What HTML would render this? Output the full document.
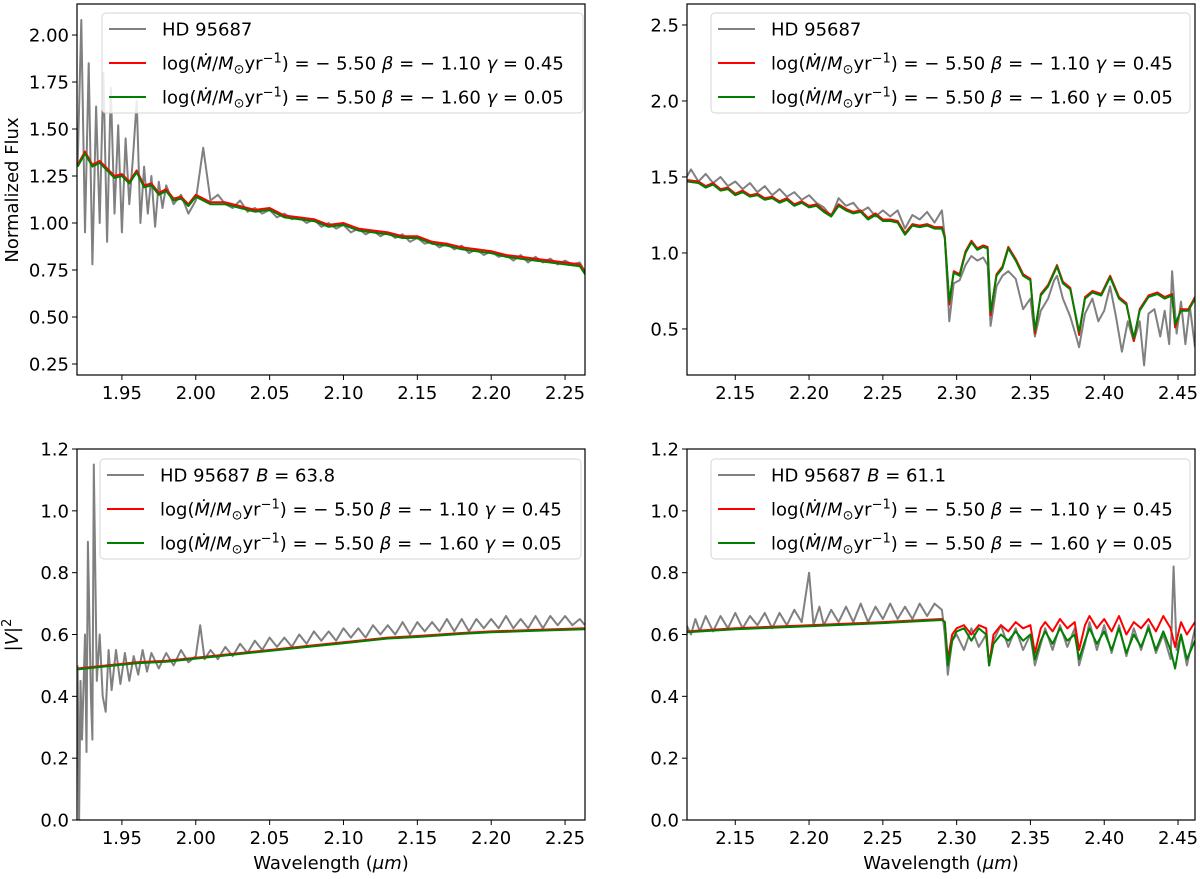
<!DOCTYPE html>
<html><head><meta charset="utf-8"><style>
body{margin:0;background:#fff}
svg text{font-family:"DejaVu Sans","Liberation Sans",sans-serif;fill:#000}
</style></head><body>
<svg id="fig" width="1200" height="874" viewBox="0 0 1200 874" xmlns="http://www.w3.org/2000/svg">
<text transform="translate(18,190) rotate(-90)" text-anchor="middle" font-size="18">Normalized Flux</text>
<text transform="translate(18,635) rotate(-90)" text-anchor="middle" font-size="18">|<tspan font-style="italic">V</tspan>|<tspan font-size="13" dy="-7">2</tspan></text>
</svg>
<script>
// ---------- Panel A: top-left normalized flux ----------
const aGrayWl=[1.920,1.9225,1.925,1.9275,1.930,1.9325,1.935,1.9375,1.940,1.9425,1.945,1.9475,1.950,1.9525,1.955,1.9575,1.960,1.9625,1.965,1.9675,1.970,1.9725,1.975,1.9775,1.980,1.985,1.99,1.995,2.00,2.005,2.01,2.015,2.02,2.025,2.03,2.035,2.04,2.045,2.05,2.055,2.06,2.065,2.07,2.075,2.08,2.085,2.09,2.095,2.10,2.105,2.11,2.115,2.12,2.125,2.13,2.135,2.14,2.145,2.15,2.155,2.16,2.165,2.17,2.175,2.18,2.185,2.19,2.195,2.20,2.205,2.21,2.215,2.22,2.225,2.23,2.235,2.24,2.245,2.25,2.255,2.26,2.265];
const aGrayFlux=[1.30,2.08,0.95,1.85,0.78,1.62,1.00,1.80,0.90,1.72,1.05,1.52,0.95,1.45,1.10,1.35,1.65,1.00,1.30,1.05,1.25,0.98,1.22,1.08,1.20,1.10,1.15,1.05,1.12,1.40,1.12,1.15,1.10,1.08,1.12,1.06,1.08,1.05,1.07,1.03,1.05,1.02,1.03,1.00,1.02,0.98,1.00,0.97,0.99,0.95,0.97,0.94,0.96,0.93,0.95,0.92,0.94,0.90,0.92,0.89,0.90,0.87,0.89,0.86,0.88,0.84,0.86,0.83,0.85,0.82,0.83,0.80,0.83,0.79,0.82,0.79,0.81,0.78,0.80,0.78,0.79,0.72];
const aModelWl=[1.92,1.925,1.93,1.935,1.94,1.945,1.95,1.955,1.96,1.965,1.97,1.975,1.98,1.985,1.99,1.995,2.00,2.01,2.02,2.03,2.04,2.05,2.06,2.07,2.08,2.09,2.10,2.11,2.12,2.13,2.14,2.15,2.16,2.17,2.18,2.19,2.20,2.21,2.22,2.23,2.24,2.25,2.26,2.265];
const aRedFlux=[1.31,1.38,1.31,1.33,1.29,1.25,1.26,1.22,1.28,1.20,1.21,1.16,1.18,1.13,1.14,1.10,1.15,1.11,1.11,1.09,1.07,1.08,1.04,1.03,1.02,0.99,1.00,0.97,0.96,0.95,0.93,0.93,0.90,0.89,0.87,0.86,0.85,0.83,0.82,0.81,0.80,0.79,0.78,0.72];
const aGreenFlux=[1.30,1.37,1.30,1.32,1.28,1.24,1.25,1.21,1.27,1.19,1.20,1.15,1.17,1.12,1.13,1.09,1.14,1.10,1.10,1.08,1.06,1.07,1.03,1.02,1.01,0.98,0.99,0.96,0.95,0.94,0.92,0.92,0.89,0.88,0.86,0.85,0.84,0.82,0.81,0.80,0.79,0.78,0.77,0.71];
const aYTicks=[0.25,0.50,0.75,1.00,1.25,1.50,1.75,2.00];
// ---------- Panel B: top-right normalized flux ----------
const bGrayWl=[2.117,2.12,2.125,2.13,2.135,2.14,2.145,2.15,2.155,2.16,2.165,2.17,2.175,2.18,2.185,2.19,2.195,2.20,2.205,2.21,2.215,2.22,2.225,2.23,2.235,2.24,2.245,2.25,2.255,2.26,2.265,2.27,2.275,2.28,2.285,2.29,2.292,2.295,2.298,2.302,2.306,2.31,2.314,2.318,2.321,2.323,2.327,2.331,2.335,2.34,2.345,2.35,2.353,2.357,2.362,2.366,2.368,2.372,2.377,2.381,2.383,2.387,2.392,2.396,2.40,2.404,2.408,2.412,2.416,2.42,2.424,2.427,2.43,2.434,2.438,2.441,2.444,2.446,2.449,2.452,2.455,2.458,2.4615];
const bGrayFlux=[1.50,1.55,1.47,1.52,1.46,1.50,1.44,1.47,1.42,1.46,1.40,1.44,1.38,1.42,1.37,1.40,1.35,1.38,1.33,1.30,1.24,1.36,1.31,1.33,1.27,1.30,1.24,1.28,1.24,1.28,1.16,1.25,1.22,1.27,1.20,1.28,1.10,0.55,0.80,0.82,0.92,0.98,0.95,0.97,0.92,0.52,0.78,0.85,0.88,0.83,0.63,0.70,0.45,0.62,0.70,0.82,0.85,0.70,0.58,0.45,0.38,0.60,0.70,0.55,0.62,0.78,0.58,0.35,0.55,0.42,0.55,0.26,0.60,0.63,0.45,0.62,0.40,0.88,0.47,0.68,0.40,0.65,0.38];
const bModelWl=[2.117,2.125,2.13,2.135,2.14,2.145,2.15,2.155,2.16,2.165,2.17,2.175,2.18,2.185,2.19,2.195,2.20,2.205,2.21,2.215,2.22,2.225,2.23,2.235,2.24,2.245,2.25,2.255,2.26,2.265,2.27,2.275,2.28,2.285,2.29,2.292,2.295,2.298,2.302,2.306,2.31,2.314,2.318,2.321,2.323,2.327,2.331,2.335,2.34,2.345,2.35,2.353,2.357,2.362,2.368,2.372,2.377,2.383,2.387,2.392,2.398,2.404,2.41,2.415,2.42,2.424,2.43,2.436,2.441,2.446,2.448,2.452,2.457,2.4615];
const bRedFlux=[1.48,1.47,1.44,1.46,1.42,1.43,1.39,1.41,1.38,1.39,1.36,1.37,1.34,1.36,1.32,1.34,1.31,1.32,1.28,1.25,1.32,1.29,1.27,1.28,1.23,1.26,1.22,1.22,1.21,1.13,1.19,1.18,1.19,1.17,1.17,1.11,0.66,0.88,0.86,1.01,1.08,1.03,1.05,1.04,0.59,0.86,0.91,1.04,0.96,0.86,0.83,0.47,0.73,0.79,0.92,0.81,0.77,0.46,0.71,0.75,0.73,0.85,0.71,0.67,0.42,0.63,0.72,0.74,0.71,0.73,0.51,0.63,0.63,0.71];
const bGreenFlux=[1.47,1.46,1.43,1.45,1.41,1.42,1.38,1.40,1.37,1.38,1.35,1.36,1.33,1.35,1.31,1.33,1.30,1.31,1.27,1.24,1.31,1.28,1.26,1.27,1.22,1.25,1.21,1.21,1.20,1.12,1.18,1.17,1.18,1.16,1.16,1.10,0.68,0.87,0.85,1.00,1.07,1.02,1.04,1.03,0.61,0.85,0.90,1.03,0.95,0.85,0.82,0.49,0.72,0.78,0.91,0.80,0.76,0.48,0.70,0.74,0.72,0.84,0.70,0.66,0.44,0.62,0.71,0.73,0.70,0.72,0.53,0.62,0.62,0.70];
const bYTicks=[0.5,1.0,1.5,2.0,2.5];
// ---------- Panel C: bottom-left |V|^2 ----------
const cGrayWl=[1.92,1.921,1.922,1.923,1.925,1.926,1.927,1.929,1.93,1.931,1.933,1.935,1.937,1.939,1.941,1.943,1.946,1.949,1.952,1.955,1.958,1.961,1.964,1.967,1.97,1.975,1.98,1.985,1.99,1.995,2.00,2.003,2.006,2.01,2.015,2.02,2.025,2.03,2.035,2.04,2.045,2.05,2.055,2.06,2.065,2.07,2.075,2.08,2.085,2.09,2.095,2.10,2.105,2.11,2.115,2.12,2.125,2.13,2.135,2.14,2.145,2.15,2.155,2.16,2.165,2.17,2.175,2.18,2.185,2.19,2.195,2.20,2.205,2.21,2.215,2.22,2.225,2.23,2.235,2.24,2.245,2.25,2.255,2.26,2.2635];
const cGrayV2=[0.50,0.00,0.45,0.26,0.60,0.22,0.90,0.40,0.26,1.15,0.45,0.60,0.40,0.35,0.55,0.42,0.55,0.44,0.54,0.45,0.53,0.47,0.55,0.48,0.54,0.49,0.54,0.50,0.55,0.51,0.53,0.63,0.52,0.55,0.52,0.56,0.53,0.57,0.54,0.58,0.55,0.59,0.56,0.59,0.56,0.60,0.57,0.61,0.58,0.61,0.58,0.62,0.59,0.62,0.59,0.63,0.60,0.63,0.60,0.64,0.60,0.64,0.61,0.64,0.61,0.65,0.61,0.65,0.61,0.65,0.62,0.65,0.62,0.66,0.62,0.65,0.62,0.66,0.62,0.66,0.63,0.66,0.63,0.65,0.63];
const cModelWl=[1.92,1.94,1.96,1.98,2.00,2.02,2.05,2.08,2.10,2.13,2.15,2.18,2.20,2.23,2.2635];
const cRedV2=[0.49,0.50,0.51,0.515,0.525,0.535,0.55,0.565,0.575,0.59,0.595,0.605,0.61,0.615,0.62];
const cGreenV2=[0.487,0.497,0.507,0.512,0.522,0.532,0.547,0.562,0.572,0.587,0.592,0.602,0.607,0.612,0.617];
const vYTicks=[0.0,0.2,0.4,0.6,0.8,1.0,1.2];
// ---------- Panel D: bottom-right |V|^2 ----------
const dGrayWl=[2.117,2.12,2.123,2.126,2.13,2.135,2.14,2.145,2.15,2.155,2.16,2.165,2.17,2.175,2.18,2.185,2.19,2.195,2.20,2.203,2.207,2.21,2.215,2.22,2.225,2.23,2.235,2.24,2.245,2.25,2.255,2.26,2.265,2.27,2.275,2.28,2.285,2.29,2.292,2.294,2.297,2.30,2.305,2.31,2.315,2.32,2.322,2.325,2.33,2.335,2.34,2.345,2.35,2.353,2.357,2.36,2.365,2.37,2.375,2.38,2.383,2.387,2.39,2.395,2.40,2.405,2.41,2.415,2.42,2.425,2.43,2.435,2.44,2.445,2.447,2.449,2.452,2.456,2.4615];
const dGrayV2=[0.63,0.60,0.65,0.61,0.66,0.61,0.66,0.62,0.67,0.62,0.66,0.63,0.67,0.62,0.67,0.63,0.68,0.64,0.80,0.63,0.69,0.63,0.68,0.64,0.69,0.64,0.70,0.64,0.69,0.65,0.70,0.65,0.69,0.65,0.70,0.66,0.70,0.68,0.60,0.47,0.58,0.60,0.55,0.62,0.56,0.60,0.50,0.58,0.63,0.56,0.62,0.55,0.60,0.50,0.57,0.62,0.55,0.63,0.56,0.62,0.50,0.57,0.64,0.55,0.63,0.54,0.63,0.53,0.62,0.55,0.63,0.54,0.60,0.52,0.82,0.55,0.60,0.50,0.62];
const dModelWl=[2.117,2.15,2.20,2.25,2.29,2.292,2.294,2.297,2.30,2.305,2.31,2.315,2.32,2.322,2.325,2.33,2.335,2.34,2.345,2.35,2.353,2.357,2.36,2.365,2.37,2.375,2.38,2.383,2.387,2.39,2.395,2.40,2.405,2.41,2.415,2.42,2.425,2.43,2.435,2.44,2.445,2.448,2.452,2.456,2.4615];
const dRedV2=[0.61,0.62,0.63,0.64,0.65,0.64,0.52,0.60,0.62,0.63,0.60,0.63,0.62,0.50,0.60,0.63,0.61,0.64,0.62,0.63,0.54,0.62,0.64,0.61,0.65,0.62,0.64,0.55,0.63,0.66,0.62,0.65,0.61,0.66,0.60,0.64,0.62,0.65,0.61,0.66,0.62,0.56,0.64,0.60,0.64];
const dGreenV2=[0.607,0.617,0.627,0.637,0.647,0.64,0.50,0.58,0.61,0.62,0.58,0.62,0.60,0.50,0.57,0.60,0.58,0.61,0.58,0.60,0.52,0.58,0.61,0.57,0.62,0.58,0.60,0.52,0.58,0.62,0.57,0.61,0.55,0.62,0.54,0.60,0.56,0.62,0.55,0.61,0.55,0.49,0.60,0.52,0.58];
const leftXTicks=[1.95,2.00,2.05,2.10,2.15,2.20,2.25];
const rightXTicks=[2.15,2.20,2.25,2.30,2.35,2.40,2.45];

const NS='http://www.w3.org/2000/svg';
const svg=document.getElementById('fig');
function mk(tag,attrs,parent){const e=document.createElementNS(NS,tag);for(const k in attrs)e.setAttribute(k,attrs[k]);(parent||svg).appendChild(e);return e;}

function panel(id,box,xr,yr,xt,yt,ydec,xlabelOn){
  const g=mk('g',{});
  
  
  const sx=v=>box.x0+(v-xr[0])/(xr[1]-xr[0])*(box.x1-box.x0);
  const sy=v=>box.y1-(v-yr[0])/(yr[1]-yr[0])*(box.y1-box.y0);
  const cp=mk('clipPath',{id:'clip-'+id},g);
  mk('rect',{x:box.x0,y:box.y0,width:box.x1-box.x0,height:box.y1-box.y0},cp);
  const plot=mk('g',{'clip-path':'url(#clip-'+id+')'},g);
  xt.forEach(t=>{
    const x=sx(t);
    const tk=mk('line',{x1:x,x2:x,y1:box.y1,y2:box.y1+5,stroke:'#000','stroke-width':1},g);
    
    
    const tl=mk('text',{x:x,y:box.y1+24,'font-size':18,'text-anchor':'middle'},g);
    tl.textContent=t.toFixed(2);
    
    
  });
  yt.forEach(t=>{
    const y=sy(t);
    const tk=mk('line',{x1:box.x0-5,x2:box.x0,y1:y,y2:y,stroke:'#000','stroke-width':1},g);
    
    
    const tl=mk('text',{x:box.x0-8,y:y+6.5,'font-size':18,'text-anchor':'end'},g);
    tl.textContent=t.toFixed(ydec);
    
    
  });
  if(xlabelOn){
    const xl=mk('text',{x:(box.x0+box.x1)/2,y:box.y1+49,'font-size':18,'text-anchor':'middle'},g);
    xl.innerHTML='Wavelength (<tspan font-style="italic">μm</tspan>)';
    
    
  }
  return {g,plot,sx,sy,box};
}
function series(P,wl,val,color,width,name){
  const n=Math.min(wl.length,val.length);
  const pts=[];
  for(let i=0;i<n;i++)pts.push(P.sx(wl[i]).toFixed(1)+','+P.sy(val[i]).toFixed(1));
  const pl=mk('polyline',{points:pts.join(' '),fill:'none',stroke:color,'stroke-width':width,'stroke-linejoin':'round'},P.plot);
  
  
}
function frame(P){
  const b=P.box;
  const r=mk('rect',{x:b.x0,y:b.y0,width:b.x1-b.x0,height:b.y1-b.y0,fill:'none',stroke:'#000','stroke-width':1.2},P.g);
  
  
}
const MLAB1='log(<tspan font-style="italic">Ṁ</tspan>/<tspan font-style="italic">M</tspan><tspan font-size="13" dy="4">⊙</tspan><tspan dy="-4">yr</tspan><tspan font-size="13" dy="-7">−1</tspan><tspan dy="7">) = − 5.50 </tspan><tspan font-style="italic">β</tspan> = − 1.10 <tspan font-style="italic">γ</tspan> = 0.45';
const MLAB2='log(<tspan font-style="italic">Ṁ</tspan>/<tspan font-style="italic">M</tspan><tspan font-size="13" dy="4">⊙</tspan><tspan dy="-4">yr</tspan><tspan font-size="13" dy="-7">−1</tspan><tspan dy="7">) = − 5.50 </tspan><tspan font-style="italic">β</tspan> = − 1.60 <tspan font-style="italic">γ</tspan> = 0.05';
function legend(P,x0,y0,w,label0){
  const lg=mk('g',{},P.g);
  
  
  mk('rect',{x:x0,y:y0,width:w,height:100,rx:4,fill:'#fff','fill-opacity':0.85,stroke:'#d6d6d6','stroke-width':1},lg);
  const rows=[[label0,'#808080'],[MLAB1,'#ff0000'],[MLAB2,'#008000']];
  const names=['legend-entry-observed','legend-entry-model-1','legend-entry-model-2'];
  rows.forEach((r,i)=>{
    const y=y0+16+i*34;
    const e=mk('g',{},lg);
    
    
    mk('line',{x1:x0+7,x2:x0+44,y1:y,y2:y,stroke:r[1],'stroke-width':2},e);
    const t=mk('text',{x:x0+60,y:y+6.5,'font-size':18},e);
    t.innerHTML=r[0];
  });
}

const LX=[1.9196,2.2635], RX=[2.1173,2.4615];
const A=panel('panel-flux-left',{x0:77,x1:585,y0:4,y1:375},LX,[0.1915,2.165],leftXTicks,aYTicks,2,false);
series(A,aGrayWl,aGrayFlux,'#808080',2,'observed-flux-line');
series(A,aModelWl,aRedFlux,'#ff0000',2,'model-1-flux-line');
series(A,aModelWl,aGreenFlux,'#008000',2,'model-2-flux-line');
frame(A); legend(A,102,13,481,'HD 95687');

const B=panel('panel-flux-right',{x0:687,x1:1195,y0:4,y1:375},RX,[0.197,2.638],rightXTicks,bYTicks,1,false);
series(B,bGrayWl,bGrayFlux,'#808080',2,'observed-flux-line');
series(B,bModelWl,bRedFlux,'#ff0000',2,'model-1-flux-line');
series(B,bModelWl,bGreenFlux,'#008000',2,'model-2-flux-line');
frame(B); legend(B,711,13,479,'HD 95687');

const C=panel('panel-visibility-left',{x0:77,x1:585,y0:449,y1:820},LX,[0,1.2],leftXTicks,vYTicks,1,true);
series(C,cGrayWl,cGrayV2,'#808080',2,'observed-visibility-line');
series(C,cModelWl,cRedV2,'#ff0000',2,'model-1-visibility-line');
series(C,cModelWl,cGreenV2,'#008000',2,'model-2-visibility-line');
frame(C); legend(C,100,459,481,'HD 95687 <tspan font-style="italic">B</tspan> = 63.8');

const D=panel('panel-visibility-right',{x0:687,x1:1195,y0:449,y1:820},RX,[0,1.2],rightXTicks,vYTicks,1,true);
series(D,dGrayWl,dGrayV2,'#808080',2,'observed-visibility-line');
series(D,dModelWl,dRedV2,'#ff0000',2,'model-1-visibility-line');
series(D,dModelWl,dGreenV2,'#008000',2,'model-2-visibility-line');
frame(D); legend(D,711,459,479,'HD 95687 <tspan font-style="italic">B</tspan> = 61.1');
</script>
</body></html>
